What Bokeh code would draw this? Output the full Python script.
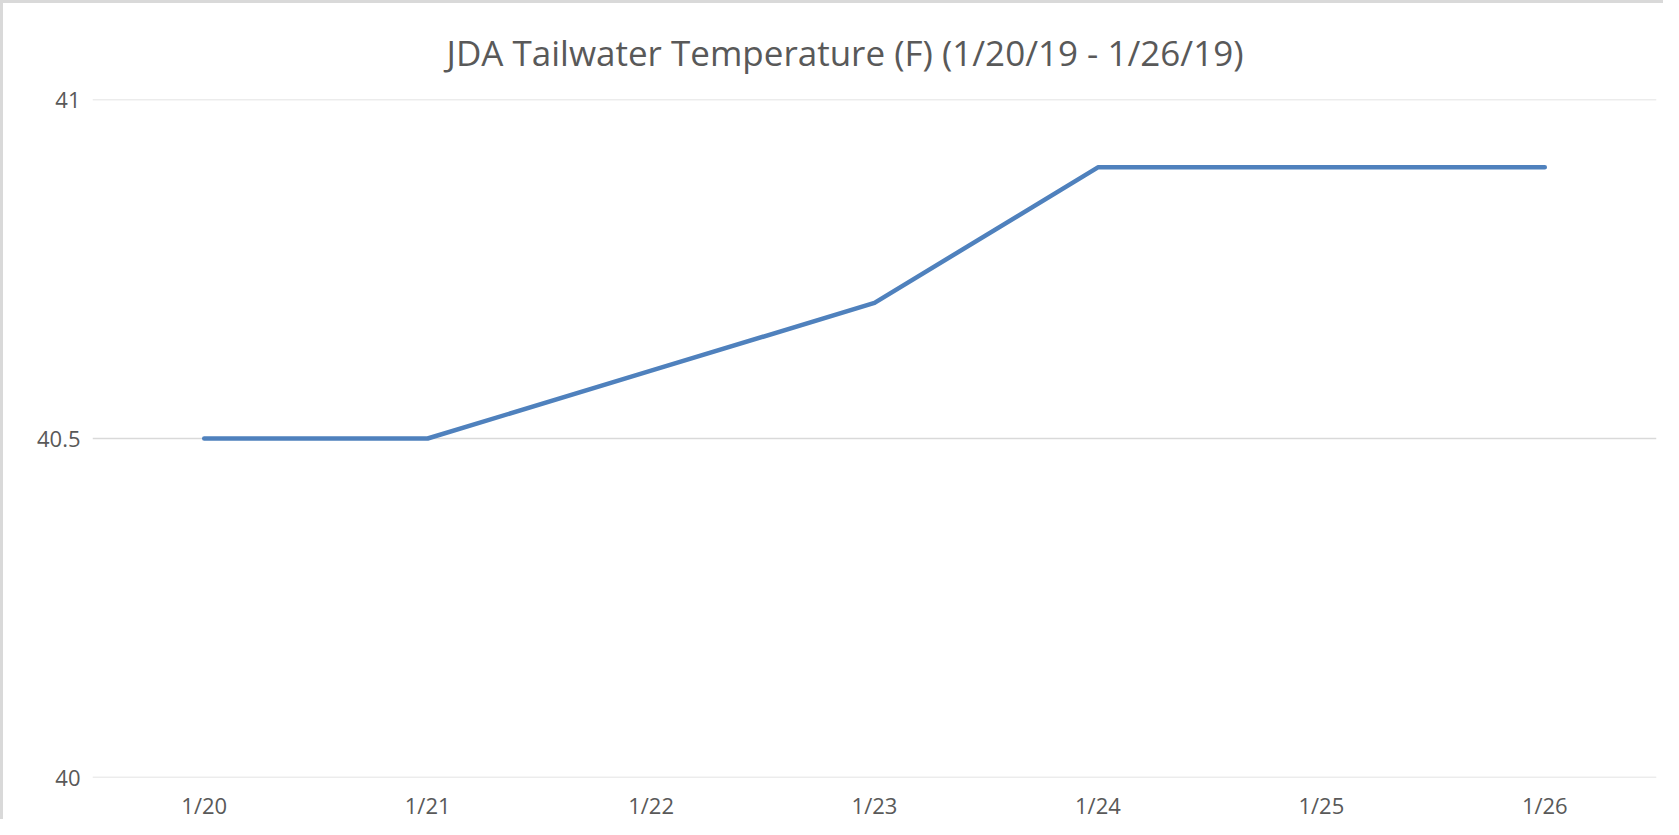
from bokeh.plotting import figure
from bokeh.models import FactorRange, Range1d, FixedTicker, Span
from bokeh.embed import file_html
from bokeh.resources import INLINE

dates = ["1/20", "1/21", "1/22", "1/23", "1/24", "1/25", "1/26"]
temps = [40.5, 40.5, 40.6, 40.7, 40.9, 40.9, 40.9]
y_ticks = [40, 40.5, 41]
y_tick_labels = {40: "40", 40.5: "40.5", 41: "41"}
title_text = "JDA Tailwater Temperature (F) (1/20/19 - 1/26/19)"

FONT = "Open Sans"
TEXT_COLOR = "#595959"
GRID_COLOR = "#d9d9d9"

p = figure(width=1663, height=819, x_range=FactorRange(*dates, range_padding=0),
           y_range=Range1d(y_ticks[0], y_ticks[-1]), output_backend="svg", toolbar_location=None,
           title=title_text)
p.min_border_left = 89
p.min_border_right = 10
p.min_border_top = 94
p.min_border_bottom = 36
p.outline_line_color = None
p.background_fill_color = "white"
p.border_fill_color = "white"
p.styles = {"border-left": "3px solid #d9d9d9", "border-top": "3px solid #d9d9d9"}

p.title.text_font = FONT
p.title.text_font_size = "35px"
p.title.text_font_style = "normal"
p.title.text_color = TEXT_COLOR
p.title.align = "left"
p.title.offset = 354
p.title.standoff = 47

# horizontal gridlines (incl. those at the range ends)
for t in y_ticks:
    p.add_layout(Span(location=t, dimension="width", line_color=GRID_COLOR,
                      line_width=1.5, level="underlay"))

p.line(dates, temps, line_color="#4f81bd", line_width=4.5, line_cap="round", line_join="round")

p.yaxis.ticker = FixedTicker(ticks=y_ticks)
p.yaxis.major_label_overrides = y_tick_labels
p.yaxis.axis_line_color = None
p.yaxis.major_tick_line_color = None
p.yaxis.minor_tick_line_color = None
p.yaxis.major_label_standoff = 6
p.yaxis.major_label_text_font = FONT
p.yaxis.major_label_text_font_size = "22px"
p.yaxis.major_label_text_color = TEXT_COLOR

p.xaxis.axis_line_color = None
p.xaxis.major_tick_line_color = None
p.xaxis.minor_tick_line_color = None
p.xaxis.major_label_standoff = 6
p.xaxis.major_label_text_font = FONT
p.xaxis.major_label_text_font_size = "22px"
p.xaxis.major_label_text_color = TEXT_COLOR

p.xgrid.grid_line_color = None
p.ygrid.grid_line_color = None

open("out.html", "w").write(file_html(p, INLINE))
